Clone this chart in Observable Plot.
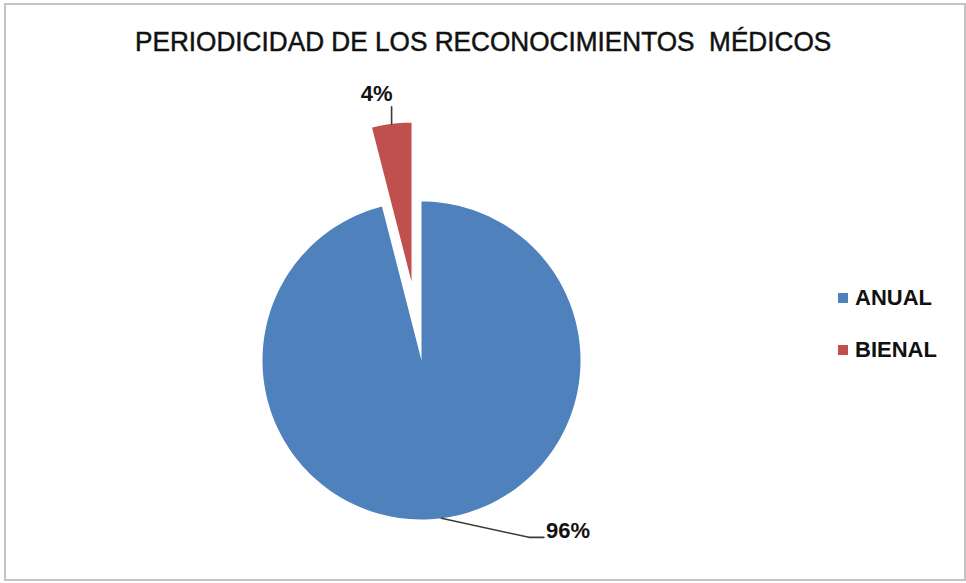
<!DOCTYPE html>
<html>
<head>
<meta charset="utf-8">
<script src="https://cdn.jsdelivr.net/npm/d3@7"></script>
<script src="https://cdn.jsdelivr.net/npm/@observablehq/plot@0.6"></script>
<style>
  html, body { margin: 0; padding: 0; background: #fff; }
  #wrap { position: relative; width: 966px; height: 583px; overflow: hidden; background: #fff; }
  #frame { position: absolute; left: 4px; top: 3px; width: 958px; height: 574px; border: 2px solid #c4c4c4; box-sizing: content-box; }
  #title { position: absolute; left: 0; width: 966px; top: 26px; text-align: center;
           font-family: "Liberation Sans", Arial, sans-serif;
           font-size: 28px; color: #111; white-space: nowrap;
           transform: scaleX(0.935); transform-origin: 485px 0; -webkit-text-stroke: 0.5px #111; }
  #chart { position: absolute; left: 0; top: 0; }
  .leg { position: absolute; font-family: "Liberation Sans", Arial, sans-serif; font-weight: bold; font-size: 22px; color: #111; white-space: nowrap; }
  .sw { position: absolute; width: 10px; height: 10px; }
</style>
</head>
<body>
<div id="wrap">
  <div id="chart"></div>
  <div id="title">PERIODICIDAD DE LOS RECONOCIMIENTOS&nbsp; MÉDICOS</div>
  <div id="legend"></div>
  <div id="frame"></div>
</div>
<script>
// ---- data ----
const categories = ["ANUAL", "BIENAL"];
const shares = [96, 4];
const labels = ["96%", "4%"];
const colors = ["#4F81BD", "#C0504D"];
const explode = [0, 0.5]; // fraction of radius

// ---- layout ----
const W = 966, H = 583;
const cx = 421, cy = 360, R = 159;

const pie = d3.pie().sort(null).value(d => d.value)(categories.map((c, i) => ({name: c, value: shares[i]})));

function pt(r, a) { return [r * Math.sin(a), r * Math.cos(a)]; }

const polys = [];
const slices = pie.map((p, i) => {
  const mid = (p.startAngle + p.endAngle) / 2;
  const [ox, oy] = pt(explode[i], mid);
  const pts = [{name: p.data.name, x: ox, y: oy}];
  const n = 180;
  for (let k = 0; k <= n; k++) {
    const a = p.startAngle + (p.endAngle - p.startAngle) * k / n;
    const [x, y] = pt(1, a);
    pts.push({name: p.data.name, x: ox + x, y: oy + y});
  }
  polys.push(...pts);
  const [ex, ey] = pt(1, mid);
  return {name: p.data.name, mid, edge: [ox + ex, oy + ey], label: labels[i]};
});

// leader lines + label anchors (in radius units)
const leaders = [];
const textPts = [];
// ANUAL: elbow leader toward bottom-right
{
  const s = slices[0];
  const [x0, y0] = s.edge;
  const p1 = [x0 + 0.55, y0 - 0.12];
  const p2 = [p1[0] + 0.095, p1[1]];
  leaders.push({id: s.name, x: x0, y: y0}, {id: s.name, x: p1[0], y: p1[1]}, {id: s.name, x: p2[0], y: p2[1]});
  textPts.push({text: s.label, x: p2[0], y: p2[1], anchor: "start", dx: 2, dy: -6});
}
// BIENAL: short vertical leader above the exploded slice
{
  const s = slices[1];
  const [x0, y0] = s.edge;
  const p1 = [x0, y0 + 0.107];
  leaders.push({id: s.name, x: x0, y: y0}, {id: s.name, x: p1[0], y: p1[1]});
  textPts.push({text: s.label, x: p1[0], y: p1[1], anchor: "middle", dx: -15, dy: -13});
}

const chart = Plot.plot({
  width: W, height: H,
  margin: 0,
  x: {domain: [-1, 1], range: [cx - R, cx + R], axis: null},
  y: {domain: [-1, 1], range: [cy + R, cy - R], axis: null},
  color: {domain: categories, range: colors},
  marks: [
    Plot.line(polys, {x: "x", y: "y", z: "name", fill: "name", stroke: null, curve: "linear-closed"}),
    Plot.line(leaders, {x: "x", y: "y", z: "id", stroke: "#3a3a3a", strokeWidth: 1.6}),
    ...textPts.map(t => Plot.text([t], {x: "x", y: "y", text: "text", textAnchor: t.anchor, dx: t.dx, dy: t.dy,
      fontSize: 22, fontWeight: "bold", fontFamily: "Liberation Sans, Arial, sans-serif", fill: "#111"}))
  ]
});
document.getElementById("chart").appendChild(chart);

// legend
const leg = document.getElementById("legend");
categories.forEach((c, i) => {
  const top = 293 + i * 52;
  const sw = document.createElement("div");
  sw.className = "sw"; sw.style.left = "838px"; sw.style.top = top + "px"; sw.style.background = colors[i];
  leg.appendChild(sw);
  const t = document.createElement("div");
  t.className = "leg"; t.style.left = "855px"; t.style.top = (top - 8) + "px"; t.textContent = c;
  leg.appendChild(t);
});
</script>
</body>
</html>
